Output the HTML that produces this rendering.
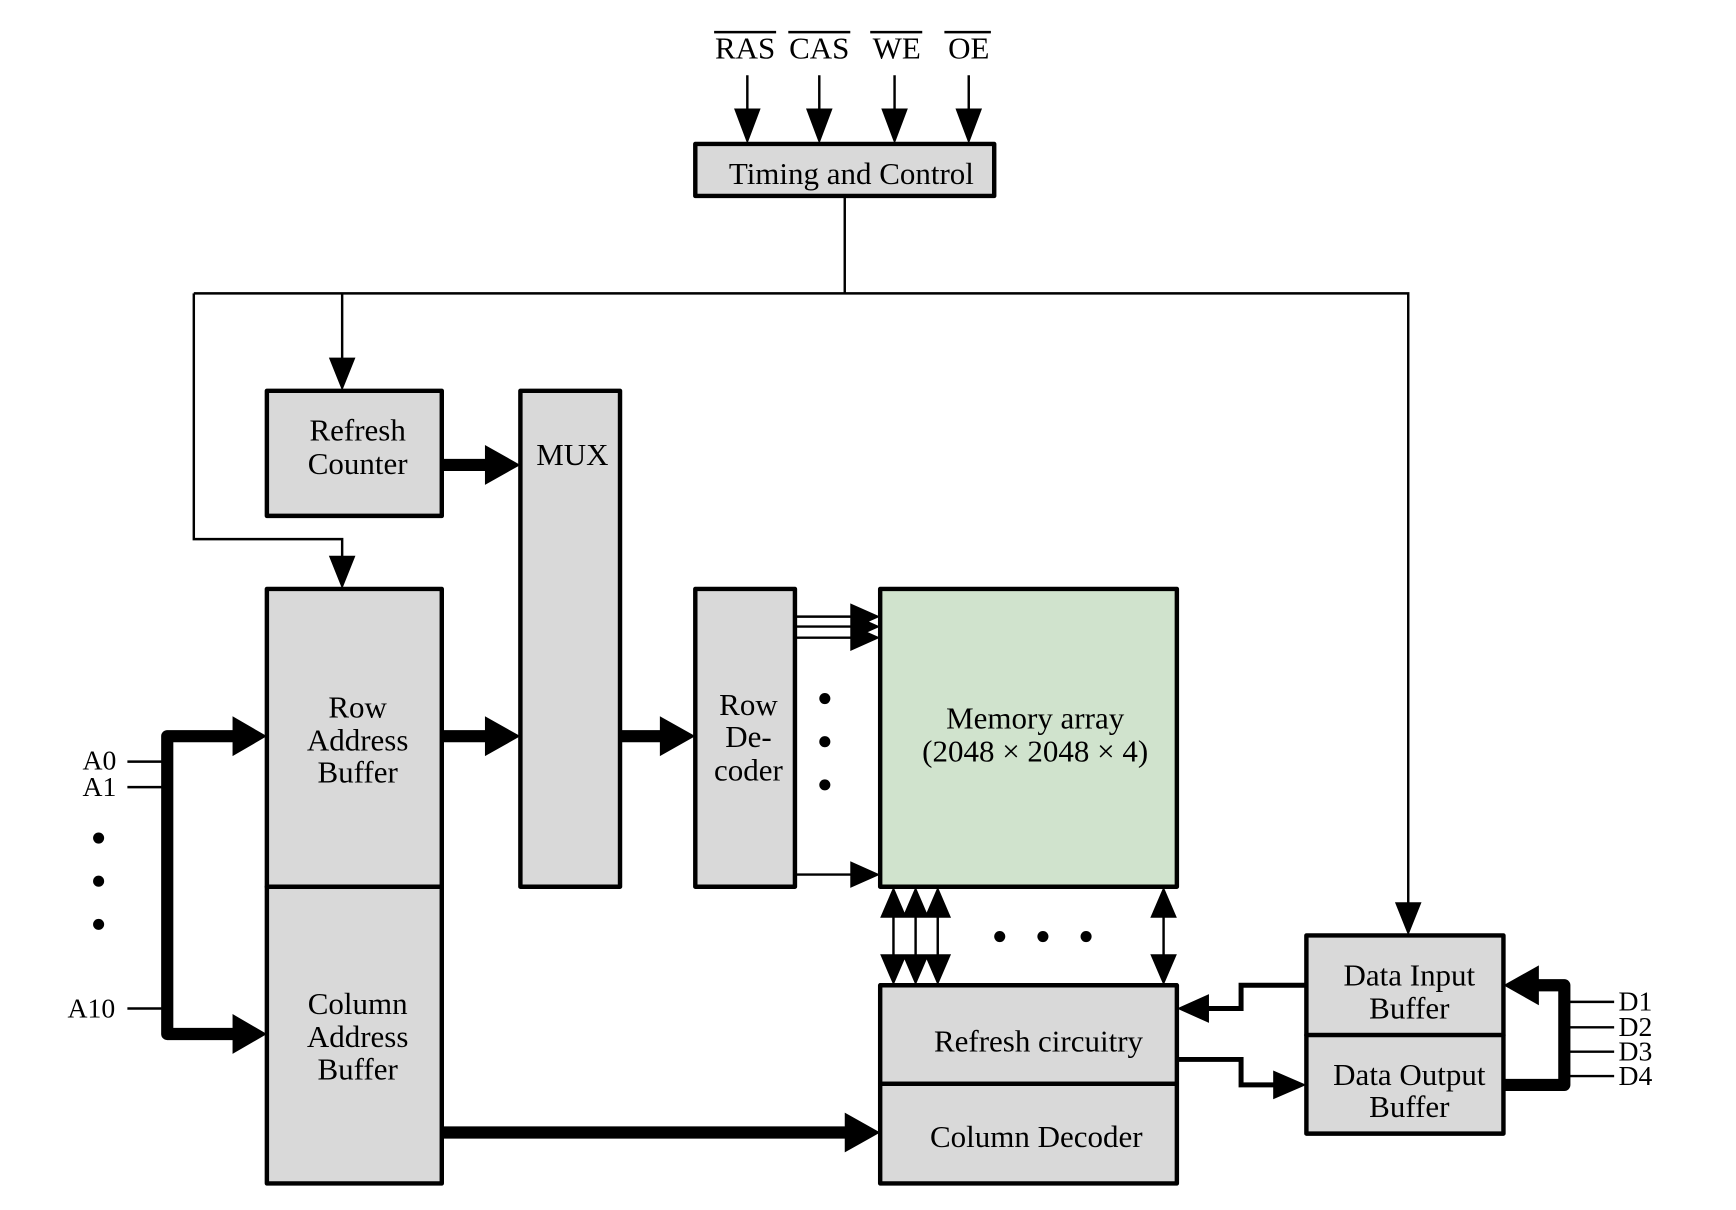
<!DOCTYPE html>
<html><head><style>html,body{margin:0;padding:0;background:#fff}svg{display:block}</style></head>
<body>
<svg width="1736" height="1210" viewBox="0 0 1568 1093" xmlns="http://www.w3.org/2000/svg" font-family="'Liberation Serif', serif" font-size="28">
<g fill="#d9d9d9" stroke="#000" stroke-width="4" stroke-linejoin="round">
<rect x="628" y="130" width="270" height="47"/>
<rect x="241" y="353" width="158" height="113"/>
<rect x="470" y="353" width="90" height="448"/>
<rect x="241" y="532" width="158" height="269"/>
<rect x="241" y="801" width="158" height="268"/>
<rect x="628" y="532" width="90" height="269"/>
<rect x="795" y="532" width="268" height="269" fill="#d0e3cd"/>
<rect x="795" y="890" width="268" height="89"/>
<rect x="795" y="979" width="268" height="90"/>
<rect x="1180" y="845" width="178" height="90"/>
<rect x="1180" y="935" width="178" height="89"/>
</g>
<g fill="#000" stroke="none">
<path d="M663,98h24l-12,32z M728,98h24l-12,32z M796,98h24l-12,32z M863,98h24l-12,32z"/>
<path d="M297,323h24l-12,30z M297,502h24l-12,30z M1260,815h24l-12,30z"/>
</g>
<g stroke="#000" stroke-width="2.2" fill="none">
<path d="M675,68V100 M740,68V100 M808,68V100 M875,68V100"/>
<path d="M645,29h56 M712,29h56 M786,29h47 M853,29h42"/>
<path d="M763,177V265 M175,265H1272V817 M175,265V487H309V504 M309,265V325"/>
<path d="M115,688H151 M115,711H151 M115,911H151"/>
<path d="M1413,905H1458 M1413,928H1458 M1413,950H1458 M1413,972H1458"/>
</g>
<g stroke="#000" stroke-width="2.2">
<line x1="718" y1="557" x2="770" y2="557"/><line x1="718" y1="566" x2="770" y2="566"/><line x1="718" y1="576" x2="770" y2="576"/><line x1="718" y1="790" x2="770" y2="790"/>
<line x1="807" y1="820" x2="807" y2="870"/><line x1="827" y1="820" x2="827" y2="870"/><line x1="847" y1="820" x2="847" y2="870"/><line x1="1051" y1="820" x2="1051" y2="870"/>
</g>
<g fill="#000">
<path d="M768,545L795,557L768,569z M768,554L795,566L768,578z M768,564L795,576L768,588z M768,778L795,790L768,802z"/>
<path d="M807,801l12,28h-24z M827,801l12,28h-24z M847,801l12,28h-24z M1051,801l12,28h-24z"/>
<path d="M807,890l12,-28h-24z M827,890l12,-28h-24z M847,890l12,-28h-24z M1051,890l12,-28h-24z"/>
<circle cx="745" cy="631" r="5"/><circle cx="745" cy="670" r="5"/><circle cx="745" cy="709" r="5"/>
<circle cx="903" cy="846" r="5"/><circle cx="942" cy="846" r="5"/><circle cx="981" cy="846" r="5"/>
<circle cx="89" cy="757" r="5"/><circle cx="89" cy="796" r="5"/><circle cx="89" cy="835" r="5"/>
</g>
<g stroke="#000" stroke-width="11" fill="none" stroke-linejoin="round">
<path d="M399,420H440 M399,665H440 M560,665H598 M399,1023H765"/>
<path d="M212,665H151V934H212"/>
<path d="M1358,980H1413V890H1388"/>
</g>
<g stroke="#000" stroke-width="4.5" fill="none">
<path d="M1180,890H1121V911H1090 M1063,957H1121V980H1152"/>
</g>
<g fill="#000">
<path d="M438,402L470,420L438,438z M438,647L470,665L438,683z M596,647L628,665L596,683z M763,1005L795,1023L763,1041z"/>
<path d="M210,647L241,665L210,683z M210,916L241,934L210,952z"/>
<path d="M1390,872L1358,890L1390,908z"/>
<path d="M1092,898L1063,911L1092,924z M1150,967L1180,980L1150,993z"/>
</g>
<g text-anchor="middle" fill="#000">
<text x="673" y="53">RAS</text><text x="740" y="53">CAS</text><text x="810" y="53">WE</text><text x="875" y="53">OE</text>
<text x="769" y="166">Timing and Control</text>
<text x="323" y="398">Refresh</text><text x="323" y="428">Counter</text>
<text x="517" y="420">MUX</text>
<text x="323" y="648">Row</text><text x="323" y="678">Address</text><text x="323" y="707">Buffer</text>
<text x="323" y="916">Column</text><text x="323" y="946">Address</text><text x="323" y="975">Buffer</text>
<text x="676" y="646">Row</text><text x="676" y="675">De-</text><text x="676" y="705">coder</text>
<text x="935" y="658">Memory array</text><text x="935" y="688">(2048 × 2048 × 4)</text>
<text x="938" y="950">Refresh circuitry</text>
<text x="936" y="1036">Column Decoder</text>
<text x="1273" y="890">Data Input</text><text x="1273" y="920">Buffer</text>
<text x="1273" y="980">Data Output</text><text x="1273" y="1009">Buffer</text>
</g>
<g text-anchor="end" fill="#000" font-size="25">
<text x="105" y="695">A0</text><text x="105" y="719">A1</text><text x="104" y="919">A10</text>
</g>
<g fill="#000" font-size="25">
<text x="1462" y="913">D1</text><text x="1462" y="936">D2</text><text x="1462" y="958">D3</text><text x="1462" y="980">D4</text>
</g>
</svg>
</body></html>
